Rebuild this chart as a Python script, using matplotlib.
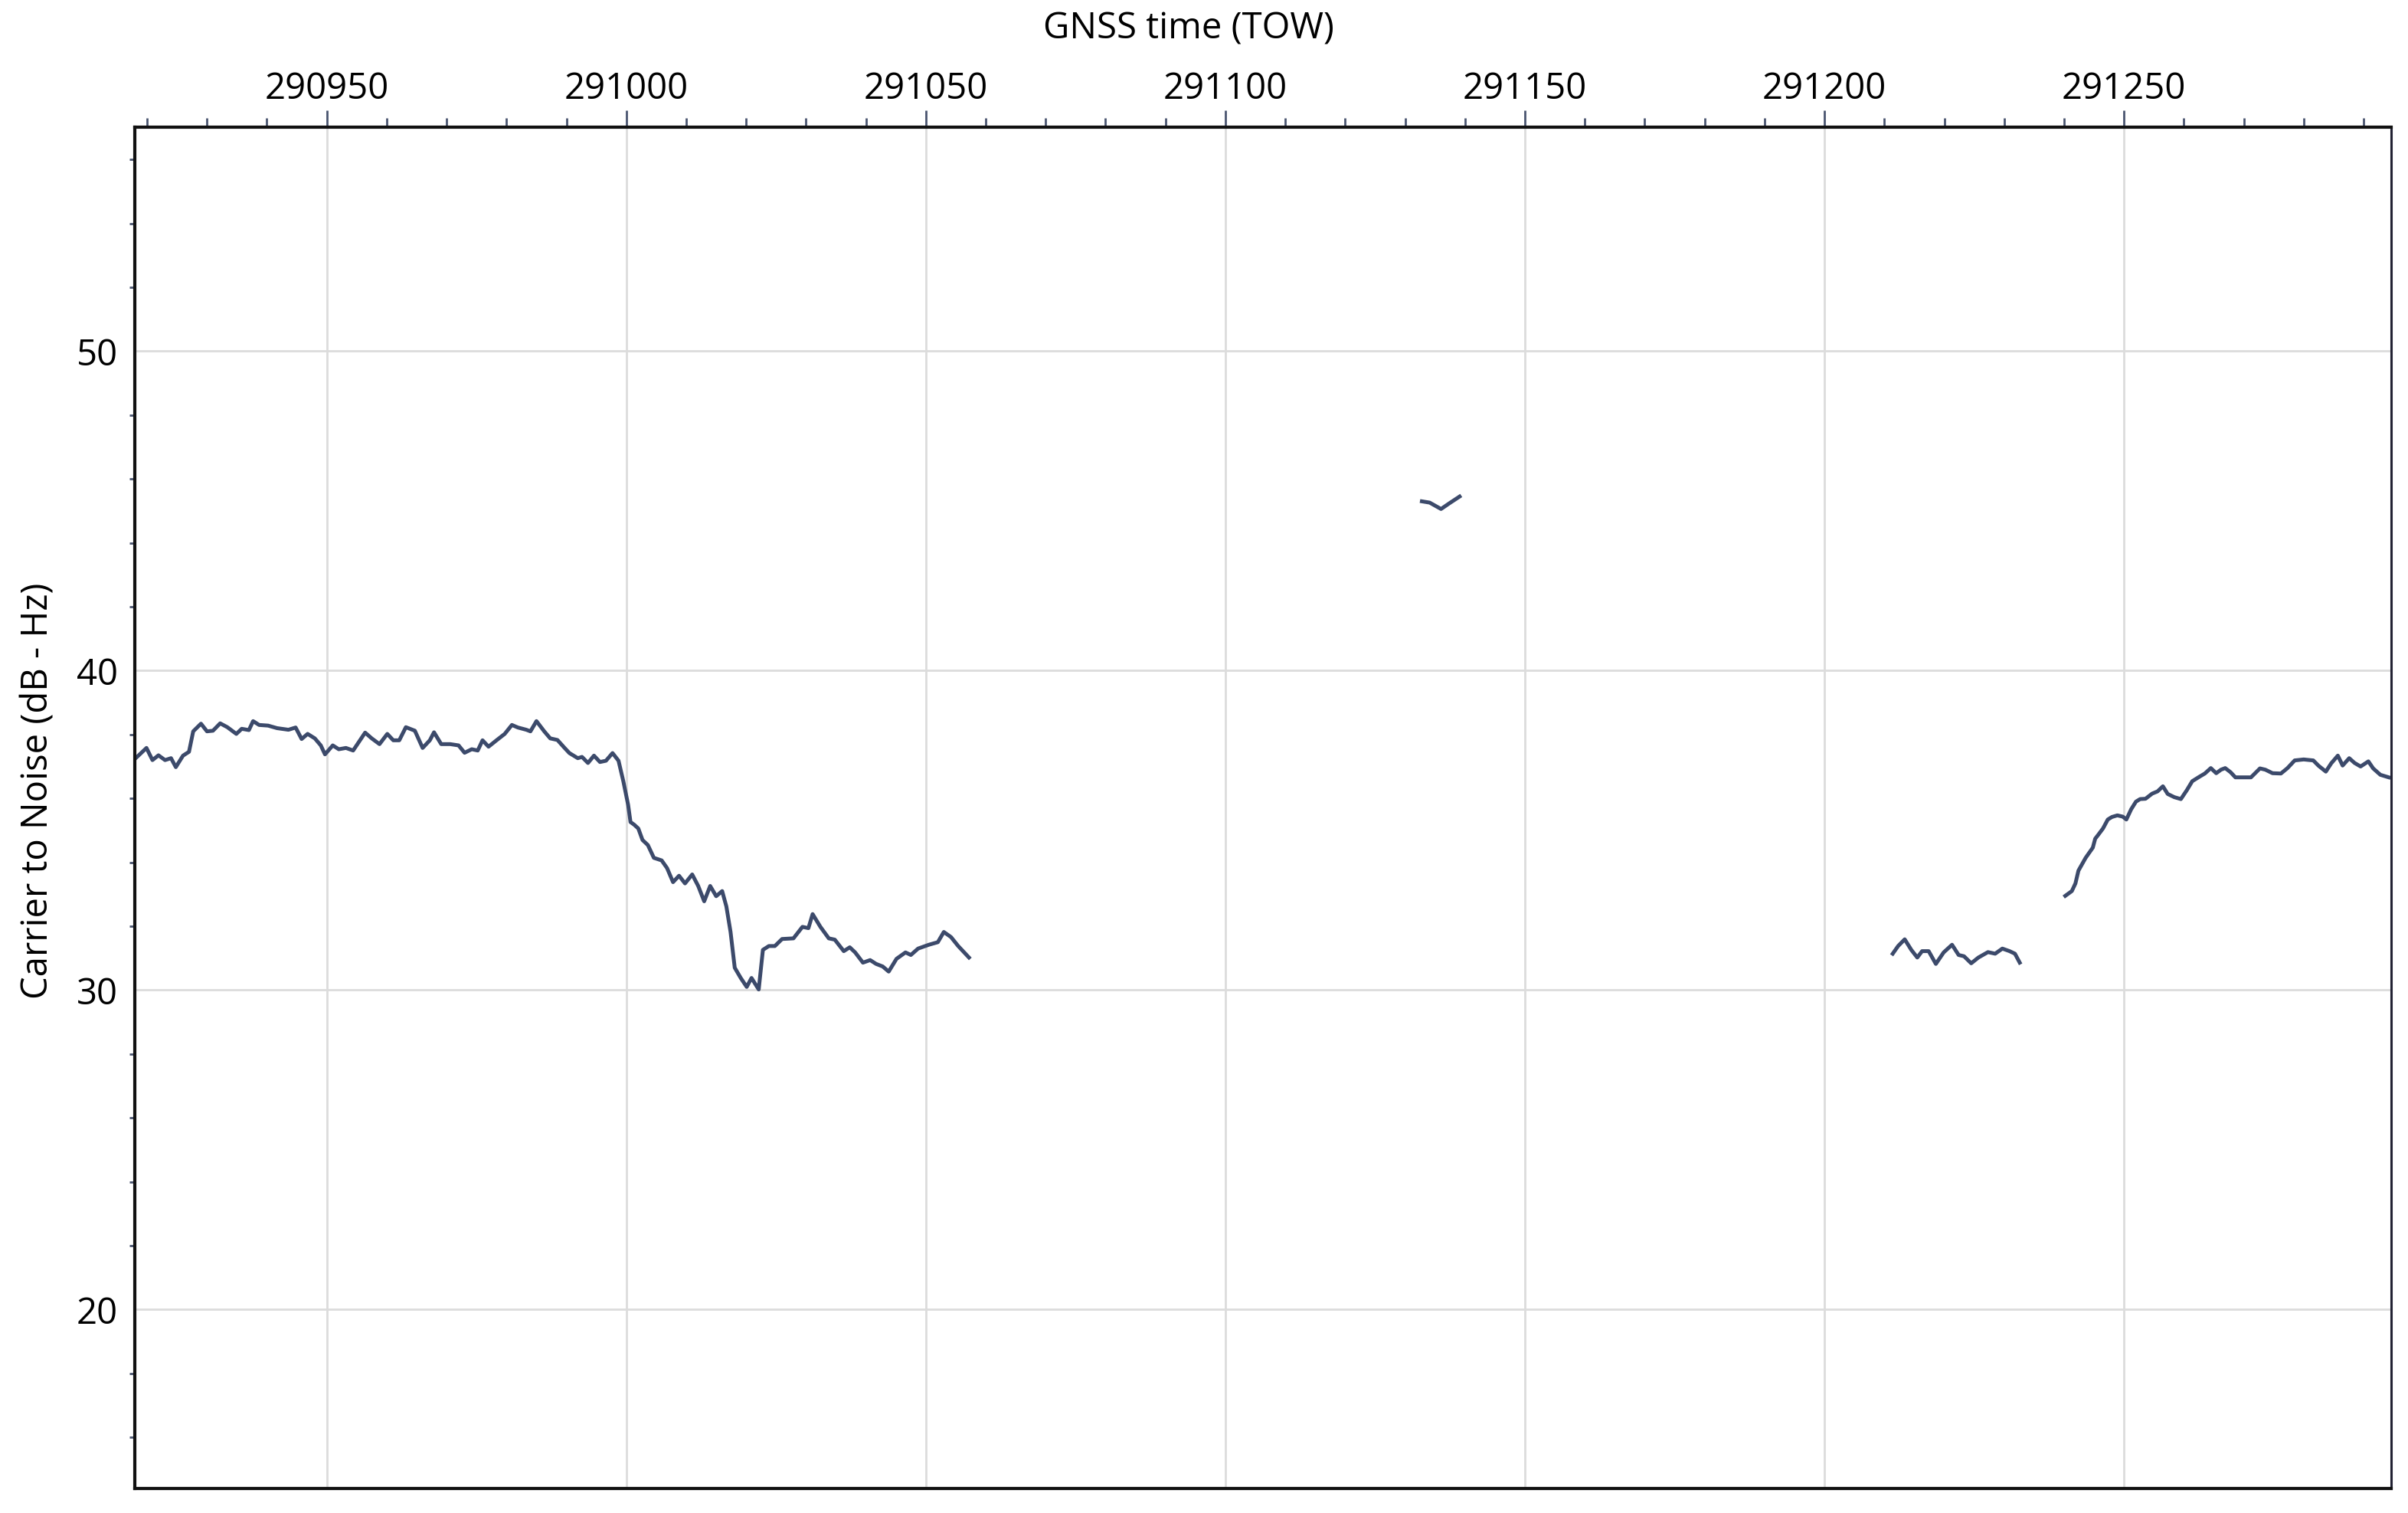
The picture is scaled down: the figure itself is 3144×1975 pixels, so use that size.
import numpy as np
import matplotlib.pyplot as plt
from matplotlib.ticker import MultipleLocator

plt.rcParams['font.family'] = ['Open Sans', 'DejaVu Sans']

# segment 1: 290918 - 291057
seg1_t = [290918.1, 290919.9, 290920.9, 290921.9, 290923.0, 290924.0, 290924.8, 290926.0,
          290927.0, 290927.7, 290929.0, 290930.0, 290931.0, 290932.2, 290933.4, 290934.9,
          290935.8, 290937.0, 290937.7, 290938.7, 290940.2, 290941.7, 290943.6, 290944.8,
          290945.8, 290946.8, 290948.0, 290949.0, 290949.7, 290951.0, 290952.0, 290953.2,
          290954.4, 290956.4, 290957.5, 290958.8, 290960.1, 290961.1, 290962.1, 290963.2,
          290964.7, 290966.0, 290967.2, 290967.9, 290969.1, 290970.6, 290972.0, 290973.0,
          290974.2, 290975.2, 290976.0, 290977.0, 290978.4, 290979.7, 290980.9, 290981.9,
          290983.3, 290984.0, 290985.0, 290986.3, 290987.3, 290988.5, 290989.7, 290990.5,
          290991.9, 290992.6, 290993.6, 290994.6, 290995.6, 290996.6, 290997.7, 290998.7,
          290999.5, 291000.3, 291000.7, 291001.3, 291002.0, 291002.7, 291003.6, 291004.6,
          291005.9, 291006.8, 291007.8, 291008.8, 291009.8, 291011.0, 291012.0, 291013.0,
          291014.0, 291015.0, 291016.0, 291016.7, 291017.4, 291018.1, 291019.1, 291020.1,
          291020.9, 291022.1, 291022.8, 291023.8, 291024.8, 291026.0, 291027.9, 291029.4,
          291030.4, 291031.1, 291032.4, 291033.8, 291034.8, 291036.3, 291037.3, 291038.2,
          291039.5, 291040.7, 291041.7, 291042.8, 291043.8, 291045.1, 291046.6, 291047.5,
          291048.7, 291050.5, 291052.0, 291053.0, 291054.2, 291055.4, 291057.2]
seg1_cn = [37.26, 37.58, 37.20, 37.35, 37.20, 37.26, 36.98, 37.34,
           37.46, 38.10, 38.34, 38.10, 38.12, 38.35, 38.23, 38.02,
           38.18, 38.14, 38.42, 38.30, 38.28, 38.20, 38.15, 38.22,
           37.86, 38.02, 37.88, 37.66, 37.38, 37.66, 37.54, 37.58,
           37.50, 38.06, 37.88, 37.70, 38.02, 37.82, 37.82, 38.23,
           38.12, 37.58, 37.82, 38.07, 37.70, 37.70, 37.66, 37.43,
           37.54, 37.50, 37.82, 37.62, 37.83, 38.02, 38.30, 38.22,
           38.15, 38.10, 38.42, 38.10, 37.88, 37.83, 37.58, 37.42,
           37.26, 37.30, 37.11, 37.34, 37.14, 37.18, 37.42, 37.18,
           36.54, 35.80, 35.26, 35.18, 35.06, 34.70, 34.54, 34.14,
           34.06, 33.82, 33.38, 33.58, 33.34, 33.62, 33.26, 32.78,
           33.26, 32.94, 33.10, 32.62, 31.82, 30.70, 30.38, 30.10,
           30.38, 30.02, 31.26, 31.38, 31.38, 31.60, 31.62, 31.98,
           31.94, 32.38, 31.98, 31.62, 31.58, 31.22, 31.34, 31.18,
           30.86, 30.94, 30.82, 30.74, 30.58, 30.98, 31.18, 31.10,
           31.30, 31.42, 31.50, 31.82, 31.66, 31.38, 31.02]

# segment 2: short piece near 291135
seg2_t = [291132.8, 291134.1, 291136.0, 291137.4, 291139.1]
seg2_cn = [45.30, 45.26, 45.06, 45.24, 45.45]

# segment 3: 291211 - 291233
seg3_t = [291211.4, 291212.3, 291213.4, 291214.5, 291215.5, 291216.3, 291217.4, 291218.6,
          291219.9, 291221.3, 291222.4, 291223.3, 291224.5, 291225.7, 291227.3, 291228.5,
          291229.7, 291230.9, 291231.8, 291232.6]
seg3_cn = [31.14, 31.38, 31.59, 31.26, 31.02, 31.22, 31.22, 30.82,
           31.18, 31.42, 31.10, 31.06, 30.84, 31.02, 31.19, 31.14,
           31.30, 31.22, 31.14, 30.86]

# segment 4: 291240 - end
seg4_t = [291240.2, 291241.3, 291241.9, 291242.4, 291243.0, 291243.6, 291244.2, 291244.8,
          291245.2, 291245.7, 291246.5, 291247.3, 291248.0, 291248.9, 291249.8, 291250.4,
          291251.2, 291252.0, 291252.7, 291253.6, 291254.7, 291255.6, 291256.5, 291257.3,
          291258.4, 291259.5, 291260.5, 291261.4, 291262.6, 291263.5, 291264.5, 291265.4,
          291266.2, 291266.9, 291267.8, 291268.6, 291269.6, 291271.2, 291272.7, 291273.6,
          291274.8, 291276.2, 291277.3, 291278.5, 291280.0, 291281.6, 291282.5, 291283.7,
          291284.6, 291285.7, 291286.5, 291287.6, 291288.5, 291289.5, 291290.8, 291291.6,
          291292.8, 291294.2]
seg4_cn = [32.95, 33.10, 33.34, 33.74, 33.94, 34.14, 34.30, 34.46,
           34.74, 34.86, 35.06, 35.34, 35.42, 35.47, 35.43, 35.34,
           35.66, 35.90, 35.98, 35.99, 36.15, 36.22, 36.38, 36.14,
           36.04, 35.98, 36.26, 36.54, 36.68, 36.78, 36.95, 36.79,
           36.90, 36.95, 36.82, 36.66, 36.66, 36.66, 36.94, 36.90,
           36.79, 36.78, 36.95, 37.19, 37.22, 37.19, 37.02, 36.84,
           37.10, 37.34, 37.03, 37.26, 37.11, 37.00, 37.16, 36.94,
           36.74, 36.66]

segments = [(seg1_t, seg1_cn), (seg2_t, seg2_cn), (seg3_t, seg3_cn), (seg4_t, seg4_cn)]

line_color = '#3c4a6b'
tick_color = '#4a5570'

fig = plt.figure(figsize=(31.44, 19.75), dpi=100)
ax = fig.add_axes([0.0561, 0.0162, 0.9369, 0.8995])

for t, cn in segments:
    ax.plot(t, cn, color=line_color, linewidth=3.6)

ax.set_xlim(290918, 291294.6)
ax.set_ylim(14.4, 57.0)

ax.xaxis.tick_top()
ax.xaxis.set_major_locator(MultipleLocator(50))
ax.xaxis.set_minor_locator(MultipleLocator(10))
ax.yaxis.set_major_locator(MultipleLocator(10))
ax.yaxis.set_minor_locator(MultipleLocator(2))

ax.tick_params(axis='x', which='major', direction='out', length=16, width=2,
               color=tick_color, pad=3, labelsize=34)
ax.tick_params(axis='x', which='minor', direction='out', length=9, width=2,
               color=tick_color)
ax.tick_params(axis='y', which='major', direction='out', length=0, pad=16,
               labelsize=34)
ax.tick_params(axis='y', which='minor', direction='out', length=5, width=2,
               color=tick_color)

ax.grid(True, which='major', color='#dcdcdc', linewidth=2)
ax.set_axisbelow(True)

for side in ['left', 'top', 'bottom']:
    ax.spines[side].set_linewidth(3)
    ax.spines[side].set_color('#111111')
ax.spines['right'].set_linewidth(2.2)
ax.spines['right'].set_color('#222233')

fig.text(774 / 1568, 1 - 19 / 985, 'GNSS time (TOW)', fontsize=34,
         ha='center', va='center')
fig.text(25 / 1568, 1 - 515 / 985, 'Carrier to Noise (dB - Hz)', fontsize=34,
         rotation=90, ha='center', va='center')

fig.savefig('out.png', dpi=100, facecolor='white')
